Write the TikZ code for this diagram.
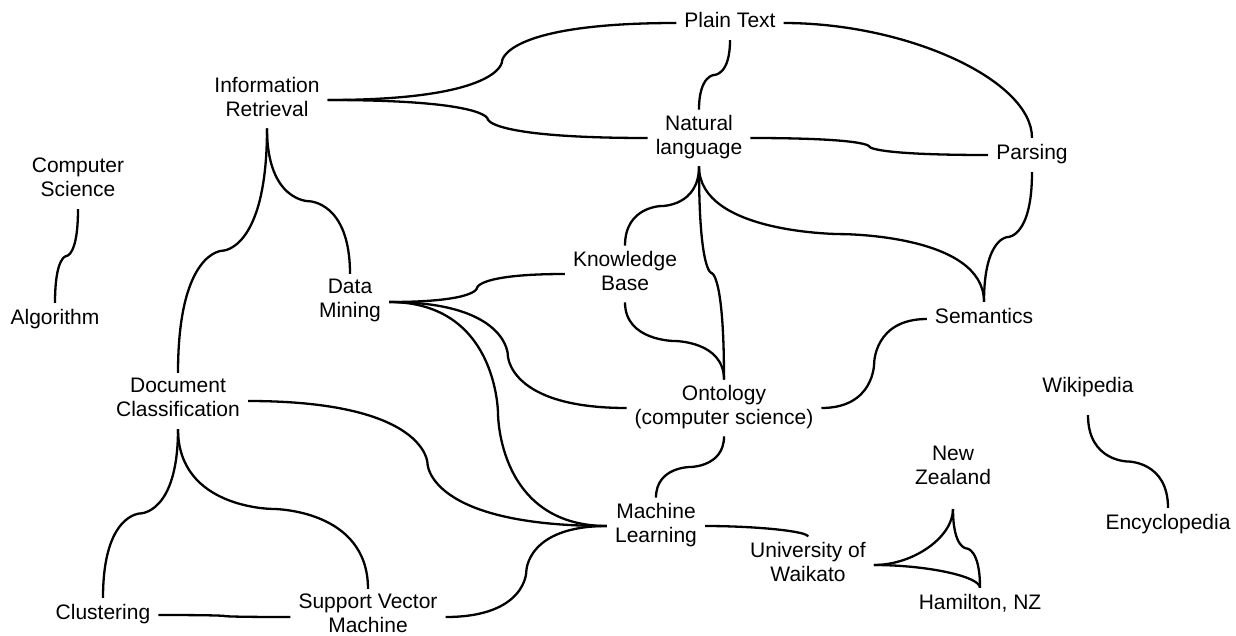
\documentclass[tikz,border=0pt]{standalone}
\usepackage{fontspec}
\setmainfont{Liberation Sans}

% connectors: side to side, top to bottom, side to top
\newcommand{\hhlink}[2]{%
  \path (#1) -- coordinate[midway] (mid) (#2);
  \draw[link] (#1) .. controls (#1 -| mid) and (mid) .. (mid)
    .. controls (mid) and (#2 -| mid) .. (#2);}
\newcommand{\vvlink}[2]{%
  \path (#1) -- coordinate[midway] (mid) (#2);
  \draw[link] (#1) .. controls (#1 |- mid) and (mid) .. (mid)
    .. controls (mid) and (#2 |- mid) .. (#2);}
\newcommand{\hvlink}[2]{%
  \path (#1) -- coordinate[midway] (mid) (#2);
  \draw[link] (#1) .. controls (#1 -| mid) and (#2 |- mid) .. (#2);}

\begin{document}
\begin{tikzpicture}[
  x=1pt, y=-1pt,
  concept/.style={align=center, font=\fontsize{21}{24}\selectfont,
    inner xsep=8pt, inner ysep=5pt,
    execute at begin node=\strut, execute at end node=\strut},
  link/.style={line width=2.3pt}
]
\useasboundingbox (0,0) rectangle (1236,635);

% concepts
\node[concept] (plain) at (730,23) {Plain Text};
\node[concept] (ir) at (267,100) {Information\\Retrieval};
\node[concept] (nl) at (699,138) {Natural\\language};
\node[concept] (parsing) at (1032,155) {Parsing};
\node[concept] (cs) at (78,181) {Computer\\Science};
\node[concept] (algo) at (55,320) {Algorithm};
\node[concept] (kb) at (625,274) {Knowledge\\Base};
\node[concept] (dm) at (350,302) {Data\\Mining};
\node[concept] (sem) at (984,319) {Semantics};
\node[concept] (dc) at (178,401) {Document\\Classification};
\node[concept] (onto) at (724,408) {Ontology\\(computer science)};
\node[concept, inner ysep=15pt] (wiki) at (1088,388) {Wikipedia};
\node[concept, inner ysep=17pt] (nz) at (953,469) {New\\Zealand};
\node[concept] (ml) at (656,526) {Machine\\Learning};
\node[concept] (uow) at (808,565) {University of\\Waikato};
\node[concept] (ham) at (980,605) {Hamilton, NZ};
\node[concept] (ency) at (1168,525) {Encyclopedia};
\node[concept] (clus) at (103,615) {Clustering};
\node[concept] (svm) at (368,617) {Support Vector\\Machine};

% side to side
\hhlink{ir.east}{plain.west}
\hhlink{ir.east}{nl.west}
\hhlink{nl.east}{parsing.west}
\hhlink{dm.east}{kb.west}
\hhlink{dm.east}{onto.west}
\hhlink{dm.east}{ml.west}
\hhlink{dc.east}{ml.west}
\hhlink{svm.east}{ml.west}
\hhlink{clus.east}{svm.west}
\hhlink{onto.east}{sem.west}

% top to bottom
\vvlink{plain.south}{nl.north}
\vvlink{ir.south}{dc.north}
\vvlink{ir.south}{dm.north}
\vvlink{nl.south}{kb.north}
\vvlink{nl.south}{onto.north}
\vvlink{nl.south}{sem.north}
\vvlink{parsing.south}{sem.north}
\vvlink{kb.south}{onto.north}
\vvlink{onto.south}{ml.north}
\vvlink{cs.south}{algo.north}
\vvlink{dc.south}{clus.north}
\vvlink{dc.south}{svm.north}
\vvlink{nz.south}{ham.north}
\vvlink{wiki.south}{ency.north}

% side to top
\hvlink{plain.east}{parsing.north}
\hvlink{ml.east}{uow.north}
\hvlink{uow.east}{nz.south}
\hvlink{uow.east}{ham.north}

\end{tikzpicture}
\end{document}
